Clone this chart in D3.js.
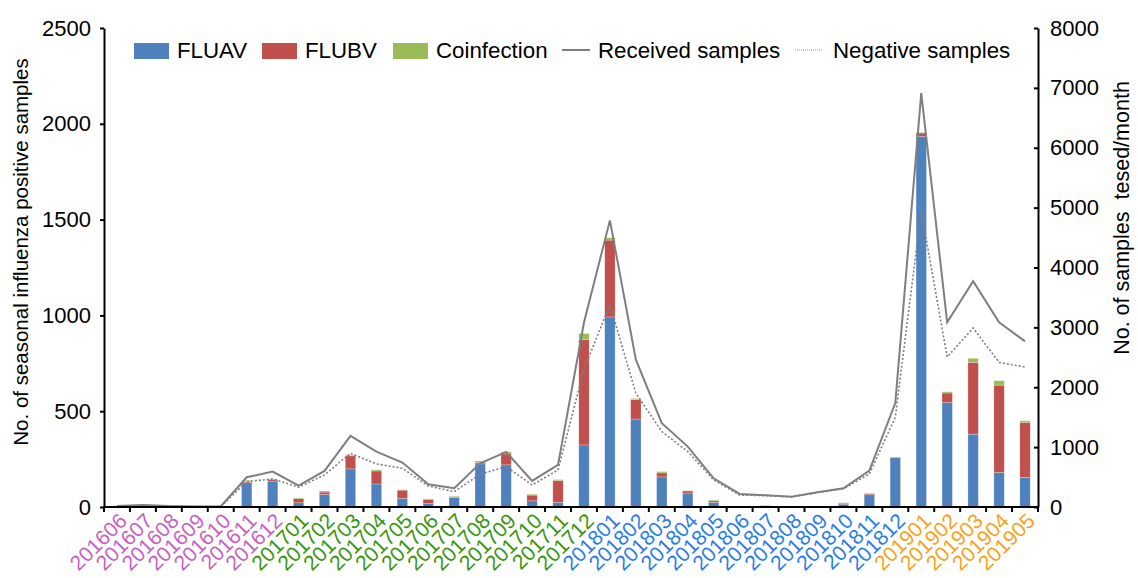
<!DOCTYPE html>
<html lang="en">
<head>
  <meta charset="utf-8">
  <title>Seasonal influenza samples</title>
  <script src="https://d3js.org/d3.v7.min.js"></script>
  <style>
    body { margin: 0; background: #fff; }
    text { font-family: "Liberation Sans", Arial, sans-serif; fill: #000; }
    .axis path, .axis line { stroke: #000; stroke-width: 2; }
    .axis text { font-size: 22px; }
  </style>
</head>
<body>
  <svg width="1138" height="578"></svg>

  <script>
    // months shown on the x axis
    var months = ["201606","201607","201608","201609","201610","201611","201612",
      "201701","201702","201703","201704","201705","201706","201707","201708","201709","201710","201711","201712",
      "201801","201802","201803","201804","201805","201806","201807","201808","201809","201810","201811","201812",
      "201901","201902","201903","201904","201905"];

    // positive samples (left axis)
    var fluav = [2,1,1,0,0,127,135,22,65,199,120,45,18,50,225,220,32,24,324,
      992,459,157,73,24,1,2,1,1,15,64,258,1935,545,380,180,155];
    var flubv = [1,1,0,0,0,6,8,22,13,68,68,43,22,3,8,57,30,113,549,
      401,101,21,11,8,2,2,1,2,5,5,2,17,50,375,456,286];
    var coinf = [0,0,0,0,0,6,3,4,6,5,6,2,3,4,7,11,5,6,32,
      12,6,7,1,5,0,4,1,0,2,4,1,3,6,21,23,9];

    // samples tested per month (right axis)
    var received = [15,35,15,10,10,497,591,357,602,1188,926,742,380,313,731,920,435,703,3080,
      4787,2460,1400,1009,480,218,196,173,246,313,608,1735,6912,3085,3771,3085,2767];
    var negative = [10,30,12,8,8,423,469,330,536,898,720,647,351,257,547,675,368,619,2300,
      3380,1900,1260,926,452,200,190,170,240,305,552,1500,4942,2505,2990,2415,2338];

    var leftTicks = [0,500,1000,1500,2000,2500];
    var rightTicks = [0,1000,2000,3000,4000,5000,6000,7000,8000];

    var yearColor = {"2016": "#c95fbf", "2017": "#36960f", "2018": "#2a7ce6", "2019": "#f7a21b"};
    var seriesColor = {FLUAV: "#4f81bd", FLUBV: "#c0504d", Coinfection: "#9bbb59"};

    var svg = d3.select("svg"),
      x0 = 104, x1 = 1038, yTop = 28, yBot = 507;

    var x = d3.scaleBand()
      .domain(months)
      .range([x0, x1])
      .paddingInner(0.6)
      .paddingOuter(0.3);
    var step = x.step();
    var cx = d => x(d) + x.bandwidth() / 2;

    var yL = d3.scaleLinear().domain([0, 2500]).range([yBot, yTop]);
    var yR = d3.scaleLinear().domain([0, 8000]).range([yBot, yTop]);

    // stacked bars
    var rows = months.map((m, i) => ({month: m, FLUAV: fluav[i], FLUBV: flubv[i], Coinfection: coinf[i]}));
    var stack = d3.stack().keys(["FLUAV", "FLUBV", "Coinfection"])(rows);

    svg.append("g").selectAll("g")
      .data(stack)
      .join("g")
        .attr("fill", s => seriesColor[s.key])
      .selectAll("rect")
      .data(s => s)
      .join("rect")
        .attr("x", d => x(d.data.month))
        .attr("width", x.bandwidth())
        .attr("y", d => yL(d[1]))
        .attr("height", d => Math.max(0, yL(d[0]) - yL(d[1])))
        .attr("stroke", "#fff")
        .attr("stroke-opacity", 0.4)
        .attr("stroke-width", 0.6);

    // lines
    var line = d3.line().x((d, i) => cx(months[i])).y(d => yR(d));

    svg.append("path")
      .datum(received)
      .attr("d", line)
      .attr("fill", "none")
      .attr("stroke", "#7f7f7f")
      .attr("stroke-width", 2);

    svg.append("path")
      .datum(negative)
      .attr("d", line)
      .attr("fill", "none")
      .attr("stroke", "#7f7f7f")
      .attr("stroke-width", 1.6)
      .attr("stroke-dasharray", "2,2");

    // left axis
    svg.append("g")
      .attr("class", "axis")
      .attr("transform", "translate(" + x0 + ",0)")
      .call(d3.axisLeft(yL).tickValues(leftTicks).tickFormat(d3.format("d"))
        .tickSize(4).tickPadding(9).tickSizeOuter(0));

    // right axis
    svg.append("g")
      .attr("class", "axis")
      .attr("transform", "translate(" + x1 + ",0)")
      .call(d3.axisRight(yR).tickValues(rightTicks).tickFormat(d3.format("d"))
        .tickSize(-4).tickPadding(12).tickSizeOuter(0));

    // bottom axis line + ticks at band boundaries
    var xa = svg.append("g").attr("class", "axis");
    xa.append("line")
      .attr("x1", x0 - 1).attr("x2", x1 + 1)
      .attr("y1", yBot).attr("y2", yBot);
    xa.selectAll(".bt")
      .data(d3.range(months.length + 1))
      .join("line")
        .attr("x1", i => x0 + i * step).attr("x2", i => x0 + i * step)
        .attr("y1", yBot).attr("y2", yBot + 5);

    xa.selectAll(".lab")
      .data(months)
      .join("text")
        .attr("transform", d => "translate(" + (cx(d) + 6) + "," + (yBot + 10) + ") rotate(-45)")
        .attr("text-anchor", "end")
        .attr("dy", "0.35em")
        .style("font-size", "21px")
        .style("fill", d => yearColor[d.slice(0, 4)])
        .text(d => d);

    // axis titles
    svg.append("text")
      .attr("transform", "translate(28,252) rotate(-90)")
      .attr("text-anchor", "middle")
      .style("font-size", "20.5px")
      .text("No. of seasonal influenza positive samples");

    svg.append("text")
      .attr("transform", "translate(1129,218) rotate(-90)")
      .attr("text-anchor", "middle")
      .style("font-size", "21.5px")
      .style("white-space", "pre")
      .text("No. of samples  tesed/month");

    // legend
    var lg = svg.append("g");
    var boxes = [["FLUAV", 134], ["FLUBV", 262], ["Coinfection", 393]];
    boxes.forEach(function(b) {
      lg.append("rect").attr("x", b[1]).attr("y", 43).attr("width", 35).attr("height", 16)
        .attr("fill", seriesColor[b[0]]);
      lg.append("text").attr("x", b[1] + 43).attr("y", 58).style("font-size", "22.3px").text(b[0]);
    });
    lg.append("line").attr("x1", 562).attr("x2", 590).attr("y1", 50).attr("y2", 50)
      .attr("stroke", "#7f7f7f").attr("stroke-width", 2);
    lg.append("text").attr("x", 598).attr("y", 58).style("font-size", "22.3px").text("Received samples");
    lg.append("line").attr("x1", 795).attr("x2", 822).attr("y1", 50).attr("y2", 50)
      .attr("stroke", "#9a9a9a").attr("stroke-width", 1).attr("stroke-dasharray", "1,1");
    lg.append("text").attr("x", 833).attr("y", 58).style("font-size", "22.3px").text("Negative samples");
  </script>
</body>
</html>
